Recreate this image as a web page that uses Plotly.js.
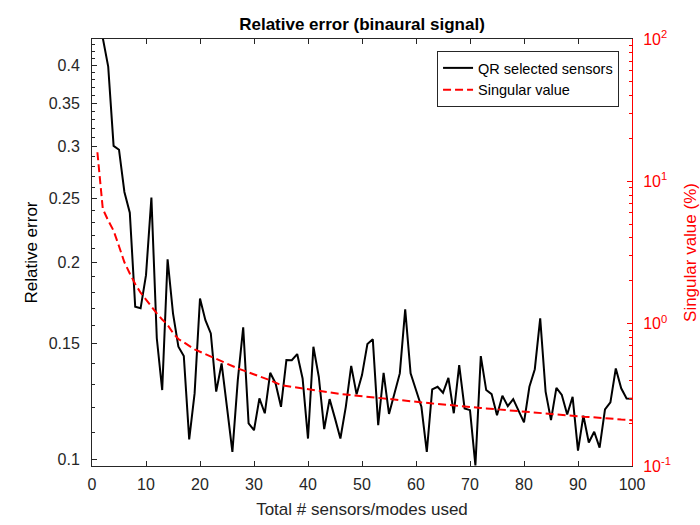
<!DOCTYPE html>
<html>
<head>
<meta charset="utf-8">
<script src="https://cdn.plot.ly/plotly-3.0.1.min.js"></script>
<style>
  html, body { margin: 0; padding: 0; background: #fff; }
  #plot1 { width: 700px; height: 525px; }
</style>
</head>
<body>
<div id="plot1"></div>
<script>
///////////////////////////////////////////////  data  /////////////////////////////////////////////////////////
var nSensors = [];
for (var n = 1; n <= 100; n++) { nSensors.push(n); }

// relative error of the QR selected sensors (left axis)
var relError = [
  0.450, 0.440, 0.398, 0.301, 0.297, 0.256, 0.238, 0.171, 0.170, 0.191,
  0.251, 0.153, 0.1275, 0.202, 0.167, 0.1485, 0.1437, 0.1072, 0.126, 0.176,
  0.163, 0.1556, 0.1268, 0.140, 0.120, 0.1026, 0.132, 0.159, 0.1134, 0.1107,
  0.1238, 0.1175, 0.1355, 0.1305, 0.1202, 0.1417, 0.1416, 0.1447, 0.1328, 0.1075,
  0.1485, 0.1336, 0.1111, 0.1235, 0.1154, 0.1075, 0.1202, 0.1388, 0.1256, 0.1344,
  0.1499, 0.1524, 0.1127, 0.1355, 0.1172, 0.1253, 0.1352, 0.1694, 0.1352, 0.1275,
  0.1202, 0.1026, 0.1278, 0.1290, 0.1263, 0.1331, 0.1175, 0.1392, 0.1195, 0.1188,
  0.0978, 0.1437, 0.1275, 0.1257, 0.1167, 0.1250, 0.1205, 0.1235, 0.1188, 0.1138,
  0.1290, 0.1372, 0.1641, 0.1268, 0.1147, 0.1285, 0.1253, 0.1170, 0.1245, 0.1030,
  0.1165, 0.1060, 0.1101, 0.1041, 0.1191, 0.1221, 0.1376, 0.1283, 0.1238, 0.1237
];

// singular value in % (right axis)
var singValue = [
  16.0, 6.4, 5.3, 4.5, 3.5, 2.7, 2.25, 1.9, 1.65, 1.47,
  1.32, 1.18, 1.07, 0.98, 0.86, 0.78, 0.74, 0.70, 0.66, 0.635,
  0.61, 0.59, 0.565, 0.545, 0.52, 0.50, 0.485, 0.47, 0.455, 0.44,
  0.43, 0.415, 0.40, 0.385, 0.37, 0.365, 0.36, 0.357, 0.353, 0.348,
  0.344, 0.338, 0.333, 0.329, 0.325, 0.321, 0.318, 0.315, 0.311, 0.308,
  0.305, 0.302, 0.299, 0.296, 0.294, 0.292, 0.290, 0.288, 0.285, 0.282,
  0.279, 0.277, 0.275, 0.273, 0.270, 0.268, 0.266, 0.264, 0.262, 0.261,
  0.259, 0.256, 0.254, 0.252, 0.250, 0.248, 0.246, 0.244, 0.242, 0.241,
  0.239, 0.237, 0.235, 0.234, 0.232, 0.230, 0.229, 0.227, 0.226, 0.224,
  0.222, 0.221, 0.220, 0.218, 0.217, 0.215, 0.214, 0.212, 0.211, 0.210
];

var leftTickVals = [0.1, 0.15, 0.2, 0.25, 0.3, 0.35, 0.4];
var leftTickText = ['0.1', '0.15', '0.2', '0.25', '0.3', '0.35', '0.4'];
var rightTickVals = [0.1, 1, 10, 100];
var rightTickText = ['10<sup>-1</sup>', '10<sup>0</sup>', '10<sup>1</sup>', '10<sup>2</sup>'];

///////////////////////////////////////////////  axis helpers  /////////////////////////////////////////////////////////
function leftMinorTicks() {
  var vals = [];
  for (var i = 10; i <= 43; i++) {
    if (i % 5 !== 0) vals.push(i / 100);
  }
  return vals;
}

function rightMinorTicks() {
  var vals = [];
  [0.1, 1, 10].forEach(function (dec) {
    for (var k = 2; k <= 9; k++) vals.push(k * dec);
  });
  return vals;
}

///////////////////////////////////////////////  plot  /////////////////////////////////////////////////////////
var fontMain = 'Liberation Sans, Arial, Helvetica, sans-serif';

var traceErr = {
  x: nSensors,
  y: relError,
  type: 'scatter',
  mode: 'lines',
  name: 'QR selected sensors',
  line: { color: '#000000', width: 2 },
  yaxis: 'y'
};

var traceSV = {
  x: nSensors,
  y: singValue,
  type: 'scatter',
  mode: 'lines',
  name: 'Singular value',
  line: { color: '#ff0000', width: 2, dash: '8px,4px' },
  yaxis: 'y2'
};

var layoutMain = {
  width: 700,
  height: 525,
  margin: { l: 92, r: 68, t: 39, b: 59 },
  paper_bgcolor: '#ffffff',
  plot_bgcolor: '#ffffff',
  font: { family: fontMain, size: 16, color: '#262626' },
  title: {
    text: '<b>Relative error (binaural signal)</b>',
    font: { family: fontMain, size: 17, color: '#000000' },
    xref: 'paper', x: 0.5, xanchor: 'center',
    yref: 'container', y: 0.955, yanchor: 'middle'
  },
  showlegend: true,
  legend: {
    x: 0.976, xanchor: 'right', y: 0.972, yanchor: 'top',
    bgcolor: '#ffffff', bordercolor: '#262626', borderwidth: 1,
    font: { family: fontMain, size: 14.5, color: '#000000' },
    tracegroupgap: 0
  },
  xaxis: {
    range: [0, 100],
    tick0: 0, dtick: 10,
    ticks: 'inside', ticklen: 5, tickwidth: 1, tickcolor: '#262626',
    showline: true, linecolor: '#262626', linewidth: 1, mirror: 'ticks',
    showgrid: false, zeroline: false,
    ticklabelstandoff: 4,
    tickfont: { size: 16, color: '#262626' },
    title: { text: 'Total # sensors/modes used', font: { size: 17, color: '#262626' }, standoff: 10 }
  },
  yaxis: {
    type: 'log',
    range: [Math.log10(0.0976), Math.log10(0.4385)],
    tickmode: 'array', tickvals: leftTickVals, ticktext: leftTickText,
    ticks: 'inside', ticklen: 5, tickwidth: 1, tickcolor: '#262626',
    minor: { tickmode: 'array', tickvals: leftMinorTicks(), ticks: 'inside', ticklen: 3, tickcolor: '#262626' },
    showline: true, linecolor: '#262626', linewidth: 1,
    showgrid: false, zeroline: false,
    ticklabelstandoff: 8,
    tickfont: { size: 16, color: '#262626' },
    title: { text: 'Relative error', font: { size: 17, color: '#000000' }, standoff: 6 }
  },
  yaxis2: {
    type: 'log',
    overlaying: 'y',
    side: 'right',
    range: [-1, 2],
    tickmode: 'array', tickvals: rightTickVals, ticktext: rightTickText,
    ticks: 'inside', ticklen: 5, tickwidth: 1, tickcolor: '#ff0000',
    minor: { tickmode: 'array', tickvals: rightMinorTicks(), ticks: 'inside', ticklen: 3, tickcolor: '#ff0000' },
    showline: true, linecolor: '#ff0000', linewidth: 1,
    showgrid: false, zeroline: false,
    ticklabelstandoff: 7,
    tickfont: { size: 16, color: '#ff0000' },
    title: { text: 'Singular value (%)', font: { size: 17, color: '#ff0000' }, standoff: 14 }
  }
};

var configPlot = { displayModeBar: false, staticPlot: true };

Plotly.newPlot('plot1', [traceErr, traceSV], layoutMain, configPlot);
</script>
</body>
</html>
